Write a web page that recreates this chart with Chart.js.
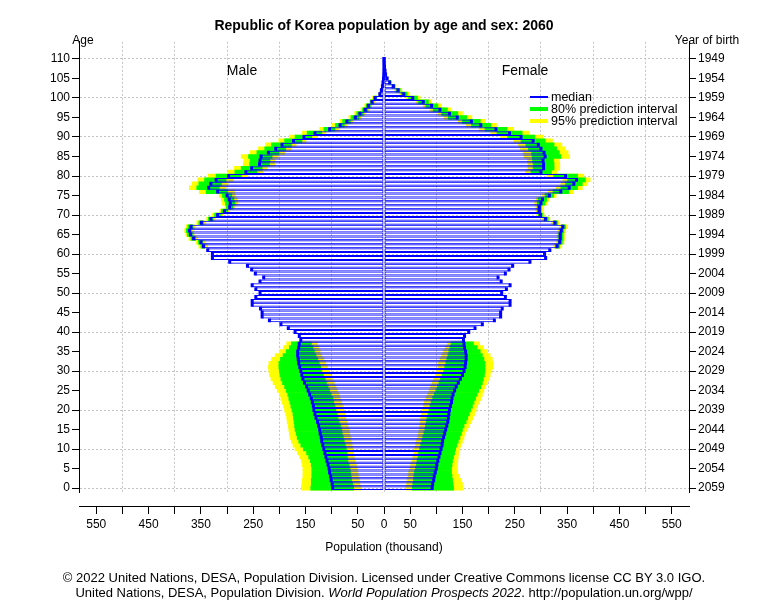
<!DOCTYPE html>
<html>
<head>
<meta charset="utf-8">
<title>Republic of Korea population by age and sex: 2060</title>
<script src="https://cdn.jsdelivr.net/npm/chart.js@4.4.1/dist/chart.umd.min.js"></script>
<style>
  body { margin: 0; background: #fff; }
  #wrap { position: relative; width: 768px; height: 613px; font-family: "Liberation Sans", Arial, sans-serif; color: #000; }
  #pyramid { position: absolute; left: 0; top: 0; }
  .txt { position: absolute; white-space: nowrap; line-height: 1; transform: translate(-50%, -50%); }
  .key { position: absolute; white-space: nowrap; line-height: 1; font-size: 12.5px; transform: translateY(-50%); }
  .swatch { position: absolute; left: 530px; width: 18px; }
</style>
</head>
<body>
<div id="wrap">
  <canvas id="pyramid" width="768" height="613"></canvas>

  <div class="txt" style="left:83px;top:40px;font-size:12px;">Age</div>
  <div class="txt" style="left:707px;top:40px;font-size:12px;">Year of birth</div>
  <div class="txt" style="left:242px;top:70px;font-size:14px;">Male</div>
  <div class="txt" style="left:525px;top:70px;font-size:14px;">Female</div>

  <div class="swatch" style="top:96px;height:2px;background:#0000ff;"></div>
  <div class="key" style="left:551px;top:97px;">median</div>
  <div class="swatch" style="top:107px;height:4px;background:#00ff00;"></div>
  <div class="key" style="left:551px;top:109px;">80% prediction interval</div>
  <div class="swatch" style="top:119px;height:4px;background:#ffff00;"></div>
  <div class="key" style="left:551px;top:121px;">95% prediction interval</div>

  <div class="txt" style="left:384px;top:577px;font-size:13px;">© 2022 United Nations, DESA, Population Division. Licensed under Creative Commons license CC BY 3.0 IGO.</div>
  <div class="txt" style="left:384px;top:592px;font-size:13px;">United Nations, DESA, Population Division. <i>World Population Prospects 2022</i>. http://population.un.org/wpp/</div>
</div>

<script>
// median population (thousand) by single year of age, 0 .. 110
const maleMedian = [
  98, 99, 101, 102, 104, 105, 107, 109, 111, 113, 115, 117, 119, 120, 122, 123, 125, 127, 130, 132,
  134, 135, 137, 139, 142, 145, 148, 152, 155, 157, 159, 161, 163, 164, 165, 165, 163, 162,
  159, 162, 170, 183, 197, 219, 233, 233, 236, 252, 252, 245, 237, 245, 252, 237, 230, 246, 253, 261, 295,
  328, 328, 337, 345, 350, 364, 370, 372, 369,
  349, 331, 318, 305, 295, 294, 296, 300, 318, 335, 331, 321, 297, 264, 253, 238, 237, 235, 221, 207,
  195, 173, 153, 132, 104, 84, 71, 55, 46, 36, 30, 23, 17, 8, 5, 3, 2, 1, 0.5, 0.3, 0.2, 0.1, 0.05
];
const femaleMedian = [
  92, 93, 95, 96, 98, 100, 101, 103, 105, 107, 109, 111, 112, 114, 116, 118, 120, 122, 123, 124,
  125, 127, 129, 130, 132, 135, 138, 142, 146, 150, 153, 155, 156, 157, 157, 156, 154, 153,
  152, 154, 162, 174, 188, 211, 223, 223, 226, 241, 241, 232, 225, 234, 241, 224, 218, 232, 239, 246, 279,
  309, 307, 317, 331, 336, 337, 337, 339, 342,
  327, 309, 299, 297, 297, 300, 303, 316, 338, 354, 363, 368, 347, 300, 305, 305, 304, 308, 306, 300,
  295, 285, 262, 240, 214, 185, 167, 140, 125, 107, 91, 75, 55, 38, 27, 18, 11, 6, 3, 2, 1, 0.5, 0.3
];

// prediction intervals for the cohorts born after 2022 (ages 0 .. 37)
const youngFirstAge = 0;
const maleYoungLo95 = [44, 46, 47, 49, 50, 51, 53, 55, 57, 58, 60, 61, 63, 64, 66, 67, 69, 71, 73, 75, 77, 79, 81, 84, 86, 89, 92, 95, 99, 102, 105, 108, 111, 115, 119, 122, 125, 128];
const maleYoungLo80 = [58, 60, 62, 63, 64, 65, 67, 69, 70, 71, 72, 74, 76, 78, 80, 81, 83, 86, 88, 90, 92, 94, 96, 98, 101, 104, 107, 110, 113, 116, 119, 121, 124, 127, 130, 133, 136, 139];
const maleYoungHi80 = [140, 139, 139, 138, 138, 138, 139, 141, 144, 148, 154, 159, 163, 166, 168, 170, 171, 172, 173, 174, 176, 178, 180, 182, 184, 187, 190, 194, 197, 199, 200, 201, 201, 198, 193, 187, 181, 177];
const maleYoungHi95 = [158, 157, 156, 155, 155, 155, 156, 158, 161, 165, 170, 174, 177, 179, 181, 182, 183, 185, 186, 188, 190, 192, 195, 197, 200, 204, 208, 212, 216, 219, 220, 221, 220, 215, 208, 200, 192, 186];
const femaleYoungLo95 = [41, 43, 44, 46, 47, 49, 51, 53, 55, 57, 58, 60, 62, 64, 66, 67, 68, 69, 70, 71, 73, 75, 77, 80, 83, 86, 89, 92, 95, 98, 101, 103, 104, 107, 110, 113, 117, 121];
const femaleYoungLo80 = [54, 55, 56, 57, 58, 60, 62, 63, 65, 66, 68, 70, 72, 74, 76, 78, 79, 81, 82, 84, 86, 88, 90, 93, 96, 99, 102, 105, 108, 111, 114, 116, 118, 120, 122, 124, 126, 128];
const femaleYoungHi80 = [133, 132, 131, 130, 129, 129, 130, 131, 133, 135, 137, 139, 142, 145, 148, 150, 153, 157, 160, 163, 166, 169, 172, 175, 178, 181, 185, 188, 190, 192, 193, 193, 193, 191, 188, 184, 178, 171];
const femaleYoungHi95 = [151, 150, 147, 144, 141, 140, 140, 141, 142, 143, 145, 147, 150, 153, 155, 158, 162, 166, 170, 173, 176, 179, 182, 185, 188, 191, 194, 197, 200, 203, 206, 208, 209, 207, 203, 197, 190, 182];

// prediction intervals at old ages (62 .. 104), mortality uncertainty
const oldFirstAge = 62;
const maleOldLo95 = [338, 343, 357, 363, 365, 362, 342, 324, 308, 296, 286, 279, 281, 285, 286, 302, 298, 289, 261, 232, 223, 209, 209, 202, 190, 178, 168, 149, 129, 111, 87, 71, 60, 44, 37, 29, 24, 18, 13, 6, 4, 2, 1.5];
const maleOldLo80 = [342, 347, 360, 366, 368, 365, 345, 327, 312, 299, 289, 285, 287, 291, 299, 315, 311, 302, 273, 243, 233, 219, 218, 214, 201, 188, 177, 157, 138, 119, 94, 76, 64, 48, 40, 31, 26, 20, 14, 7, 4, 3, 1.7];
const maleOldHi80 = [350, 355, 369, 376, 378, 375, 354, 336, 324, 311, 301, 303, 305, 309, 340, 358, 354, 343, 321, 285, 273, 257, 256, 259, 243, 228, 215, 190, 170, 147, 115, 93, 79, 63, 52, 41, 34, 26, 20, 9, 6, 4, 2.3];
const maleOldHi95 = [354, 359, 373, 379, 381, 378, 358, 339, 328, 314, 304, 309, 311, 315, 353, 372, 367, 356, 336, 298, 286, 269, 268, 273, 256, 240, 226, 201, 181, 156, 123, 99, 84, 67, 56, 44, 37, 28, 22, 10, 6, 4, 2.5];
const femaleOldLo95 = [325, 330, 331, 331, 333, 336, 320, 303, 292, 290, 290, 288, 291, 303, 314, 329, 338, 342, 312, 270, 275, 275, 274, 268, 266, 261, 257, 248, 223, 204, 182, 157, 142, 115, 103, 88, 75, 62, 43, 30, 21, 14, 8.6];
const femaleOldLo80 = [328, 333, 334, 334, 336, 339, 324, 306, 295, 293, 293, 293, 295, 308, 323, 338, 347, 351, 324, 281, 285, 285, 284, 283, 282, 276, 271, 262, 236, 216, 193, 167, 150, 123, 110, 94, 80, 66, 47, 33, 23, 15, 9.5];
const femaleOldHi80 = [336, 341, 342, 342, 344, 347, 332, 314, 303, 301, 301, 308, 311, 324, 353, 370, 379, 385, 370, 320, 325, 325, 324, 338, 335, 330, 325, 308, 288, 264, 235, 204, 184, 158, 141, 121, 103, 85, 64, 44, 31, 21, 12.8];
const femaleOldHi95 = [339, 344, 345, 345, 347, 350, 335, 317, 306, 304, 304, 312, 315, 329, 362, 379, 388, 394, 382, 330, 336, 336, 334, 355, 352, 346, 340, 322, 304, 278, 248, 215, 194, 168, 150, 128, 109, 90, 69, 48, 34, 23, 13.8];

const lastBirthYear = 2059; // year of birth of age 0
const xLimit = 583;
const blue = "#0000ff";
const green = "#00ff00";
const yellow = "#ffff00";
const gridColor = "#c4c4c4";

function medianBars(values, sign) {
  return values.map((v, age) => ({ y: age, x: [0, sign * v] }));
}

function intervalBars(firstAge, lo, hi, sign) {
  return lo.map((v, i) => ({ y: firstAge + i, x: [sign * v, sign * hi[i]] }));
}

// one short vertical stroke per age at the median, broken between ages
function medianMarks(values, sign) {
  const pts = [];
  values.forEach((v, age) => {
    pts.push({ y: age - 0.5, x: sign * v });
    pts.push({ y: age + 0.5, x: sign * v });
    pts.push({ y: age + 0.5, x: null });
  });
  return pts;
}

function bandDataset(color, order, sign, young, old) {
  return {
    type: "bar",
    indexAxis: "y",
    xAxisID: "x",
    yAxisID: "y",
    grouped: false,
    order: order,
    barPercentage: 1,
    categoryPercentage: 1,
    backgroundColor: color,
    borderWidth: 0,
    data: intervalBars(youngFirstAge, young[0], young[1], sign)
      .concat(intervalBars(oldFirstAge, old[0], old[1], sign))
  };
}

function barDataset(values, sign) {
  return {
    type: "bar",
    indexAxis: "y",
    xAxisID: "x",
    yAxisID: "y",
    grouped: false,
    order: 1,
    barPercentage: 1,
    categoryPercentage: 1,
    inflateAmount: 0,
    backgroundColor: "rgba(255,255,255,0)",
    borderColor: blue,
    borderWidth: 1,
    borderSkipped: false,
    data: medianBars(values, sign)
  };
}

function markDataset(values, sign) {
  return {
    type: "line",
    indexAxis: "y",
    xAxisID: "x",
    yAxisID: "y",
    order: 0,
    borderColor: blue,
    borderWidth: 3,
    borderCapStyle: "butt",
    pointRadius: 0,
    pointHoverRadius: 0,
    spanGaps: false,
    fill: false,
    data: medianMarks(values, sign)
  };
}

Chart.defaults.font.family = "'Liberation Sans', Arial, sans-serif";
Chart.defaults.font.size = 12;
Chart.defaults.color = "#000";

new Chart(document.getElementById("pyramid").getContext("2d"), {
  type: "bar",
  data: {
    datasets: [
      bandDataset(yellow, 3, -1, [maleYoungLo95, maleYoungHi95], [maleOldLo95, maleOldHi95]),
      bandDataset(yellow, 3, 1, [femaleYoungLo95, femaleYoungHi95], [femaleOldLo95, femaleOldHi95]),
      bandDataset(green, 2, -1, [maleYoungLo80, maleYoungHi80], [maleOldLo80, maleOldHi80]),
      bandDataset(green, 2, 1, [femaleYoungLo80, femaleYoungHi80], [femaleOldLo80, femaleOldHi80]),
      barDataset(maleMedian, -1),
      barDataset(femaleMedian, 1),
      markDataset(maleMedian, -1),
      markDataset(femaleMedian, 1)
    ]
  },
  options: {
    responsive: false,
    animation: false,
    events: [],
    indexAxis: "y",
    layout: { padding: { left: 0, right: 0, top: 0, bottom: 57 } },
    plugins: {
      legend: { display: false },
      tooltip: { enabled: false },
      title: {
        display: true,
        text: "Republic of Korea population by age and sex: 2060",
        color: "#000",
        font: { size: 14, weight: "bold" },
        padding: { top: 18, bottom: 7 }
      }
    },
    scales: {
      x: {
        type: "linear",
        axis: "x",
        position: "bottom",
        min: -xLimit,
        max: xLimit,
        offset: false,
        border: { display: false, dash: [2, 2] },
        grid: {
          offset: false,
          drawTicks: false,
          color: c => (c.tick && c.tick.value % 100 === 0) ? gridColor : "rgba(0,0,0,0)"
        },
        ticks: { display: false, stepSize: 100, includeBounds: false },
        afterFit: s => { s.height = 14; }
      },
      xAxis: {
        type: "linear",
        axis: "x",
        position: "bottom",
        weight: 1,
        min: -xLimit,
        max: xLimit,
        offset: false,
        border: { color: "#000", width: 1 },
        grid: { offset: false, drawOnChartArea: false, tickLength: 8, color: "#000", tickColor: "#000" },
        ticks: {
          stepSize: 50,
          includeBounds: false,
          autoSkip: false,
          maxRotation: 0,
          padding: 3,
          font: { size: 12 },
          callback: v => (v === 0 || Math.abs(v) % 100 === 50) ? String(Math.abs(v)) : ""
        },
        title: {
          display: true,
          text: "Population (thousand)",
          font: { size: 12 },
          padding: { top: 0, bottom: 1 }
        },
        afterFit: s => { s.height = 50; }
      },
      y: {
        type: "linear",
        axis: "y",
        position: "left",
        min: -1,
        max: 114.4,
        offset: false,
        border: { color: "#000", width: 1, dash: [2, 2] },
        grid: {
          offset: false,
          color: c => (c.tick && c.tick.value % 10 === 0) ? gridColor : "rgba(0,0,0,0)",
          tickColor: "#000",
          tickLength: 7,
          tickBorderDash: []
        },
        ticks: { stepSize: 5, includeBounds: false, autoSkip: false, padding: 2, font: { size: 12 } },
        afterFit: s => { s.width = 79; }
      },
      yBirth: {
        type: "linear",
        axis: "y",
        position: "right",
        min: -1,
        max: 114.4,
        offset: false,
        border: { color: "#000", width: 1 },
        grid: { offset: false, drawOnChartArea: false, tickColor: "#000", color: "#000", tickLength: 7 },
        ticks: {
          stepSize: 5,
          includeBounds: false,
          autoSkip: false,
          padding: 2,
          font: { size: 12 },
          callback: v => String(lastBirthYear - v)
        },
        afterFit: s => { s.width = 79; }
      }
    }
  }
});
</script>
</body>
</html>
